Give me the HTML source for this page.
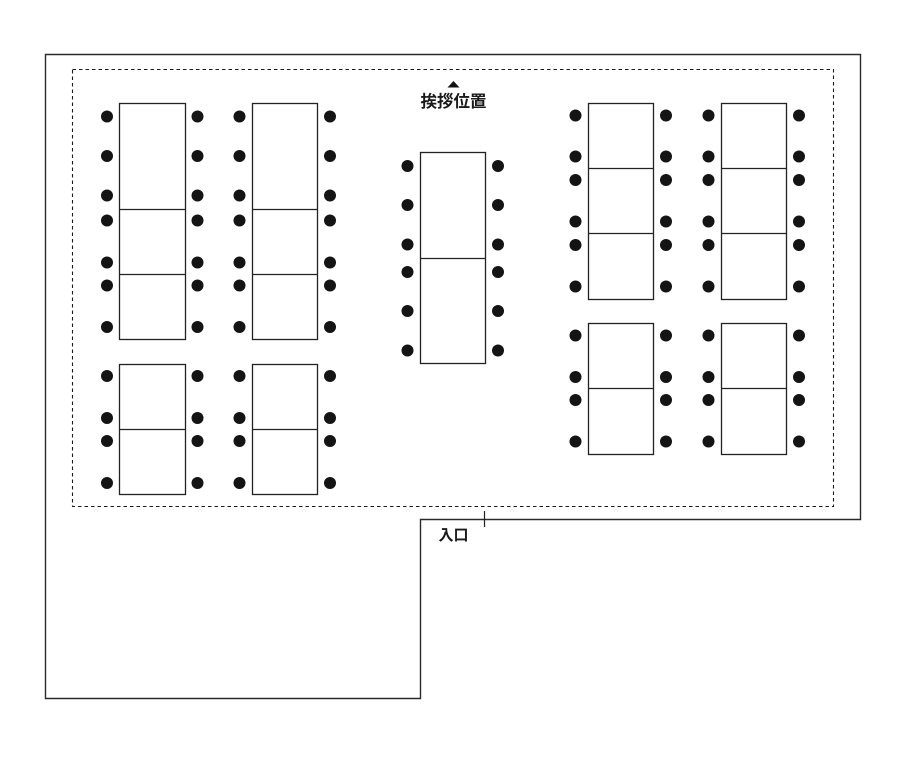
<!DOCTYPE html>
<html>
<head>
<meta charset="utf-8">
<style>
  html,body{margin:0;padding:0;background:#fff;}
  svg{display:block;}
  text{font-family:"Liberation Sans","Noto Sans CJK JP",sans-serif;font-weight:bold;fill:#1a1a1a;}
</style>
</head>
<body>
<svg width="900" height="760" viewBox="0 0 900 760" xmlns="http://www.w3.org/2000/svg">
  <!-- outer walls -->
  <path d="M45.5 54.5 H860.5 V519.5 H420.5 V698.5 H45.5 Z" fill="none" stroke="#2a2a2a" stroke-width="1.4"/>
  <!-- dashed area -->
  <rect x="72.5" y="69.5" width="761" height="437" fill="none" stroke="#1a1a1a" stroke-width="1.1" stroke-dasharray="3.5 3"/>
  <!-- entrance tick -->
  <line x1="484.5" y1="511" x2="484.5" y2="527" stroke="#222" stroke-width="1.2"/>

  <!-- title -->
  <polygon points="447.5,87.5 459.5,87.5 453.5,81" fill="#111"/>
  <text x="453.5" y="107" font-size="16.5" text-anchor="middle">挨拶位置</text>
  <text x="453.5" y="540" font-size="15" text-anchor="middle">入口</text>

  <g fill="#fff" stroke="#222" stroke-width="1.3">
    <!-- left top tables -->
    <rect x="119.5" y="103.5" width="66" height="236"/>
    <line x1="119.5" y1="209.5" x2="185.5" y2="209.5"/>
    <line x1="119.5" y1="274.5" x2="185.5" y2="274.5"/>
    <rect x="252.5" y="103.5" width="65" height="236"/>
    <line x1="252.5" y1="209.5" x2="317.5" y2="209.5"/>
    <line x1="252.5" y1="274.5" x2="317.5" y2="274.5"/>
    <!-- left bottom tables -->
    <rect x="119.5" y="364.5" width="66" height="130"/>
    <line x1="119.5" y1="429.5" x2="185.5" y2="429.5"/>
    <rect x="252.5" y="364.5" width="65" height="130"/>
    <line x1="252.5" y1="429.5" x2="317.5" y2="429.5"/>
    <!-- center -->
    <rect x="420.5" y="152.5" width="65" height="211"/>
    <line x1="420.5" y1="258.5" x2="485.5" y2="258.5"/>
    <!-- right top -->
    <rect x="588.5" y="103.5" width="65" height="196"/>
    <line x1="588.5" y1="168.5" x2="653.5" y2="168.5"/>
    <line x1="588.5" y1="233.5" x2="653.5" y2="233.5"/>
    <rect x="721.5" y="103.5" width="65" height="196"/>
    <line x1="721.5" y1="168.5" x2="786.5" y2="168.5"/>
    <line x1="721.5" y1="233.5" x2="786.5" y2="233.5"/>
    <!-- right bottom -->
    <rect x="588.5" y="323.5" width="65" height="131"/>
    <line x1="588.5" y1="388.5" x2="653.5" y2="388.5"/>
    <rect x="721.5" y="323.5" width="65" height="131"/>
    <line x1="721.5" y1="388.5" x2="786.5" y2="388.5"/>
  </g>

  <g fill="#141414">
    <!-- left top tables seats -->
    <g>
      <circle cx="107" cy="116.5" r="6"/><circle cx="107" cy="156" r="6"/><circle cx="107" cy="195.5" r="6"/>
      <circle cx="107" cy="220.5" r="6"/><circle cx="107" cy="262.5" r="6"/><circle cx="107" cy="285.5" r="6"/><circle cx="107" cy="327" r="6"/>
      <circle cx="197.5" cy="116.5" r="6"/><circle cx="197.5" cy="156" r="6"/><circle cx="197.5" cy="195.5" r="6"/>
      <circle cx="197.5" cy="220.5" r="6"/><circle cx="197.5" cy="262.5" r="6"/><circle cx="197.5" cy="285.5" r="6"/><circle cx="197.5" cy="327" r="6"/>
    </g>
    <g transform="translate(132.5,0)">
      <circle cx="107" cy="116.5" r="6"/><circle cx="107" cy="156" r="6"/><circle cx="107" cy="195.5" r="6"/>
      <circle cx="107" cy="220.5" r="6"/><circle cx="107" cy="262.5" r="6"/><circle cx="107" cy="285.5" r="6"/><circle cx="107" cy="327" r="6"/>
      <circle cx="197.5" cy="116.5" r="6"/><circle cx="197.5" cy="156" r="6"/><circle cx="197.5" cy="195.5" r="6"/>
      <circle cx="197.5" cy="220.5" r="6"/><circle cx="197.5" cy="262.5" r="6"/><circle cx="197.5" cy="285.5" r="6"/><circle cx="197.5" cy="327" r="6"/>
    </g>
    <!-- left bottom seats -->
    <circle cx="107" cy="376" r="6"/><circle cx="107" cy="418" r="6"/><circle cx="107" cy="441" r="6"/><circle cx="107" cy="483" r="6"/>
    <circle cx="197.5" cy="376" r="6"/><circle cx="197.5" cy="418" r="6"/><circle cx="197.5" cy="441" r="6"/><circle cx="197.5" cy="483" r="6"/>
    <circle cx="239.5" cy="376" r="6"/><circle cx="239.5" cy="418" r="6"/><circle cx="239.5" cy="441" r="6"/><circle cx="239.5" cy="483" r="6"/>
    <circle cx="330" cy="376" r="6"/><circle cx="330" cy="418" r="6"/><circle cx="330" cy="441" r="6"/><circle cx="330" cy="483" r="6"/>
    <!-- center seats -->
    <circle cx="407.5" cy="166" r="6"/><circle cx="407.5" cy="205" r="6"/><circle cx="407.5" cy="244.5" r="6"/>
    <circle cx="407.5" cy="272" r="6"/><circle cx="407.5" cy="311" r="6"/><circle cx="407.5" cy="350.5" r="6"/>
    <circle cx="498" cy="166" r="6"/><circle cx="498" cy="205" r="6"/><circle cx="498" cy="244.5" r="6"/>
    <circle cx="498" cy="272" r="6"/><circle cx="498" cy="311" r="6"/><circle cx="498" cy="350.5" r="6"/>
    <!-- right top seats -->
    <circle cx="575.5" cy="115.5" r="6"/><circle cx="575.5" cy="156.5" r="6"/><circle cx="575.5" cy="180" r="6"/>
    <circle cx="575.5" cy="221.5" r="6"/><circle cx="575.5" cy="245" r="6"/><circle cx="575.5" cy="286.5" r="6"/>
    <circle cx="666" cy="115.5" r="6"/><circle cx="666" cy="156.5" r="6"/><circle cx="666" cy="180" r="6"/>
    <circle cx="666" cy="221.5" r="6"/><circle cx="666" cy="245" r="6"/><circle cx="666" cy="286.5" r="6"/>
    <circle cx="708.5" cy="115.5" r="6"/><circle cx="708.5" cy="156.5" r="6"/><circle cx="708.5" cy="180" r="6"/>
    <circle cx="708.5" cy="221.5" r="6"/><circle cx="708.5" cy="245" r="6"/><circle cx="708.5" cy="286.5" r="6"/>
    <circle cx="799" cy="115.5" r="6"/><circle cx="799" cy="156.5" r="6"/><circle cx="799" cy="180" r="6"/>
    <circle cx="799" cy="221.5" r="6"/><circle cx="799" cy="245" r="6"/><circle cx="799" cy="286.5" r="6"/>
    <!-- right bottom seats -->
    <circle cx="575.5" cy="335.5" r="6"/><circle cx="575.5" cy="377" r="6"/><circle cx="575.5" cy="400" r="6"/><circle cx="575.5" cy="441.5" r="6"/>
    <circle cx="666" cy="335.5" r="6"/><circle cx="666" cy="377" r="6"/><circle cx="666" cy="400" r="6"/><circle cx="666" cy="441.5" r="6"/>
    <circle cx="708.5" cy="335.5" r="6"/><circle cx="708.5" cy="377" r="6"/><circle cx="708.5" cy="400" r="6"/><circle cx="708.5" cy="441.5" r="6"/>
    <circle cx="799" cy="335.5" r="6"/><circle cx="799" cy="377" r="6"/><circle cx="799" cy="400" r="6"/><circle cx="799" cy="441.5" r="6"/>
  </g>
</svg>
</body>
</html>
